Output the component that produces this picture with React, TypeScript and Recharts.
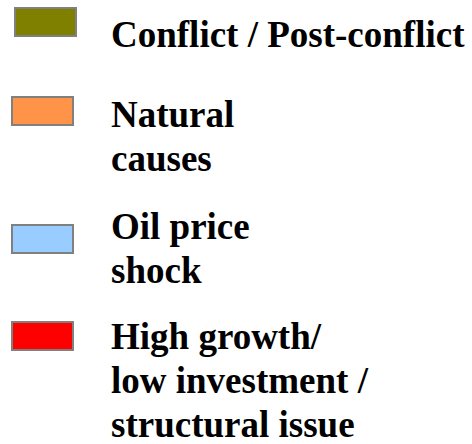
import {Bar, BarChart, Legend} from "recharts";

const seriesNames = [
  "Conflict / Post-conflict",
  "Natural causes",
  "Oil price shock",
  "High growth/ low investment / structural issue",
];
const labelLines = [
  ["Conflict / Post-conflict"],
  ["Natural", "causes"],
  ["Oil price", "shock"],
  ["High growth/", "low investment /", "structural issue"],
];
const seriesColors = ["#808000", "#FF9448", "#99CCFF", "#FF0000"];

// no values are shown in the picture: the legend is all there is
const rows: Record<string, number>[] = [];

// where each legend entry sits (swatch box and first text line)
const swatchPos = [
  {left: 14, top: 7},
  {left: 11, top: 96},
  {left: 11, top: 224},
  {left: 11, top: 321},
];
const textTop = [12.5, 92.5, 204.5, 314.5];

const LegendBox = ({payload}: { payload?: readonly any[] }) => {
  const items = payload && payload.length
    ? payload.map((p) => ({name: String(p.value), color: p.color as string}))
    : seriesNames.map((n, i) => ({name: n, color: seriesColors[i]}));

  return <div style={{position: "relative", width: 472, height: 444}}>
    {items.map((it, i) => {
      const idx = seriesNames.indexOf(it.name);
      return <div key={it.name}>
        <div
          style={{
            position: "absolute",
            left: swatchPos[idx].left,
            top: swatchPos[idx].top,
            width: 63,
            height: 30,
            boxSizing: "border-box",
            border: "2.5px solid #808080",
            background: it.color,
          }}
        />
        <div
          style={{
            position: "absolute",
            left: 111,
            top: textTop[idx],
            fontFamily: "'Liberation Serif', 'Times New Roman', serif",
            fontWeight: 700,
            fontSize: 37,
            lineHeight: "44px",
            color: "#000",
            whiteSpace: "nowrap",
            textAlign: "left",
          }}
        >
          {labelLines[idx].map((l) => <div key={l}>{l}</div>)}
        </div>
      </div>
    })}
  </div>
}

export default function App() {
  return <div style={{position: "absolute", left: 0, top: 0, width: 472, height: 444, background: "#fff"}}>
    <BarChart width={472} height={444} data={rows} margin={{top: 0, right: 0, bottom: 0, left: 0}}>
      {seriesNames.map((n, i) => (
        <Bar key={n} dataKey={n} name={n} fill={seriesColors[i]} isAnimationActive={false}/>
      ))}
      <Legend
        layout="vertical"
        verticalAlign="top"
        align="left"
        wrapperStyle={{left: 0, top: 0, width: 472, height: 444}}
        content={(props: any) => <LegendBox payload={props.payload}/>}
      />
    </BarChart>
  </div>
}
